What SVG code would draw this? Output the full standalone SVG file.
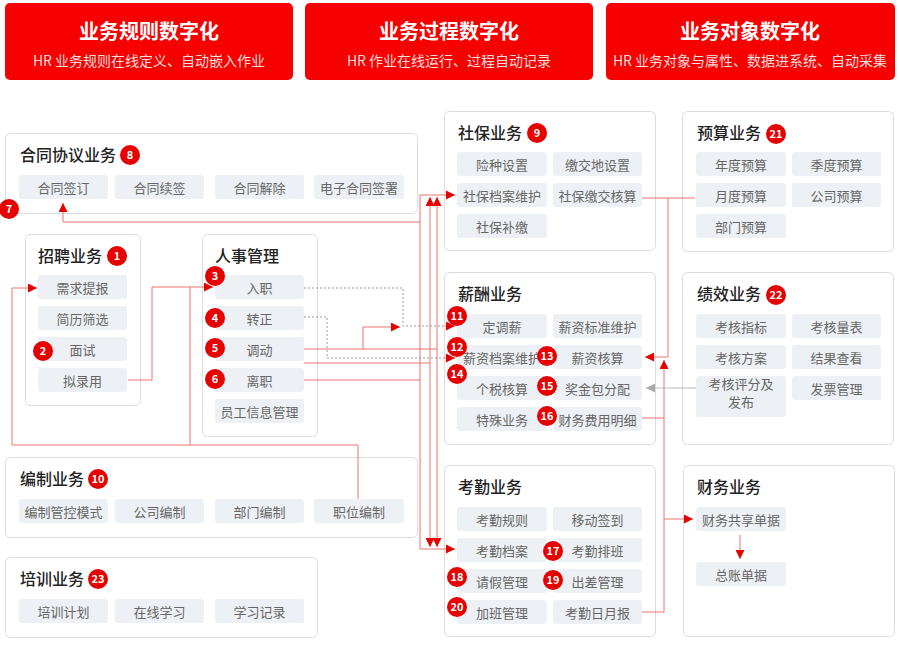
<svg xmlns="http://www.w3.org/2000/svg" width="900" height="645" viewBox="0 0 900 645">
<style>
text{font-family:"Noto Sans CJK SC","Noto Sans",sans-serif}
.ban{fill:#f70000}
.bt{fill:#fff;font-size:20px;font-weight:700;text-anchor:middle}
.bs{fill:#ffdede;font-size:14px;text-anchor:middle}
.pn{fill:#fff;stroke:#dcdcdc;stroke-width:1}
.pt{fill:#222;font-size:16px;font-weight:500}
.it{fill:#edf1f5}
.itx{fill:#666;font-size:13px;text-anchor:middle}
.bd{fill:#e60000}
.bn{fill:#fff;font-size:11px;font-weight:700;text-anchor:middle}
.ln{fill:none;stroke:#ee7070;stroke-width:1}
.dt{fill:none;stroke:#999;stroke-width:1;stroke-dasharray:2 2}
.gl{fill:none;stroke:#bbb;stroke-width:1}
</style>
<defs>
<marker id="ar" viewBox="0 0 10 10" refX="10" refY="5" markerWidth="10" markerHeight="9" markerUnits="userSpaceOnUse" orient="auto-start-reverse"><path d="M0,0 L10,5 L0,10 z" fill="#e60000"/></marker>
<marker id="ag" viewBox="0 0 10 10" refX="10" refY="5" markerWidth="10" markerHeight="9" markerUnits="userSpaceOnUse" orient="auto"><path d="M0,0 L10,5 L0,10 z" fill="#aaa"/></marker>
</defs>
<rect width="900" height="645" fill="#fff"/>

<g id="banner1"><rect class="ban" x="5" y="3" width="288" height="77" rx="5"/><text class="bt" x="149" y="39">业务规则数字化</text><text class="bs" x="149" y="66">HR 业务规则在线定义、自动嵌入作业</text></g>
<g id="banner2"><rect class="ban" x="305" y="3" width="288" height="77" rx="5"/><text class="bt" x="449" y="39">业务过程数字化</text><text class="bs" x="449" y="66">HR 作业在线运行、过程自动记录</text></g>
<g id="banner3"><rect class="ban" x="606" y="3" width="289" height="77" rx="5"/><text class="bt" x="750" y="39">业务对象数字化</text><text class="bs" x="750" y="66">HR 业务对象与属性、数据进系统、自动采集</text></g>

<g id="contract">
<rect class="pn" x="5.5" y="133.5" width="412" height="80" rx="5"/>
<text class="pt" x="20" y="161">合同协议业务</text>
<circle class="bd" cx="130" cy="155" r="10"/><text class="bn" x="130" y="159">8</text>
<rect class="it" x="19" y="175" width="89" height="24" rx="3"/><text class="itx" x="63.5" y="193">合同签订</text>
<rect class="it" x="115" y="175" width="89" height="24" rx="3"/><text class="itx" x="159.5" y="193">合同续签</text>
<rect class="it" x="215" y="175" width="89" height="24" rx="3"/><text class="itx" x="259.5" y="193">合同解除</text>
<rect class="it" x="314" y="175" width="90" height="24" rx="3"/><text class="itx" x="359" y="193">电子合同签署</text>
</g>

<g id="recruit">
<rect class="pn" x="25.5" y="234.5" width="115" height="171" rx="5"/>
<text class="pt" x="38" y="262">招聘业务</text>
<circle class="bd" cx="117" cy="256" r="10"/><text class="bn" x="117" y="260">1</text>
<rect class="it" x="38" y="275" width="89" height="24" rx="3"/><text class="itx" x="82.5" y="293">需求提报</text>
<rect class="it" x="38" y="306" width="89" height="24" rx="3"/><text class="itx" x="82.5" y="324">简历筛选</text>
<rect class="it" x="38" y="337" width="89" height="24" rx="3"/><text class="itx" x="82.5" y="355">面试</text>
<rect class="it" x="38" y="368" width="89" height="24" rx="3"/><text class="itx" x="82.5" y="386">拟录用</text>
<circle class="bd" cx="43" cy="351" r="10"/><text class="bn" x="43" y="355">2</text>
</g>

<g id="hr">
<rect class="pn" x="202.5" y="234.5" width="115" height="202" rx="5"/>
<text class="pt" x="215" y="262">人事管理</text>
<rect class="it" x="215" y="275" width="89" height="24" rx="3"/><text class="itx" x="259.5" y="293">入职</text>
<rect class="it" x="215" y="306" width="89" height="24" rx="3"/><text class="itx" x="259.5" y="324">转正</text>
<rect class="it" x="215" y="337" width="89" height="24" rx="3"/><text class="itx" x="259.5" y="355">调动</text>
<rect class="it" x="215" y="368" width="89" height="24" rx="3"/><text class="itx" x="259.5" y="386">离职</text>
<rect class="it" x="215" y="399" width="89" height="24" rx="3"/><text class="itx" x="259.5" y="417">员工信息管理</text>
<circle class="bd" cx="215" cy="276" r="10"/><text class="bn" x="215" y="280">3</text>
<circle class="bd" cx="215" cy="318" r="10"/><text class="bn" x="215" y="322">4</text>
<circle class="bd" cx="215" cy="348" r="10"/><text class="bn" x="215" y="352">5</text>
<circle class="bd" cx="215" cy="379" r="10"/><text class="bn" x="215" y="383">6</text>
</g>

<g id="staffing">
<rect class="pn" x="5.5" y="457.5" width="412" height="80" rx="5"/>
<text class="pt" x="20" y="485">编制业务</text>
<circle class="bd" cx="98" cy="479" r="10"/><text class="bn" x="98" y="483">10</text>
<rect class="it" x="19" y="499" width="89" height="24" rx="3"/><text class="itx" x="63.5" y="517">编制管控模式</text>
<rect class="it" x="115" y="499" width="89" height="24" rx="3"/><text class="itx" x="159.5" y="517">公司编制</text>
<rect class="it" x="215" y="499" width="89" height="24" rx="3"/><text class="itx" x="259.5" y="517">部门编制</text>
<rect class="it" x="314" y="499" width="90" height="24" rx="3"/><text class="itx" x="359" y="517">职位编制</text>
</g>

<g id="training">
<rect class="pn" x="5.5" y="557.5" width="312" height="80" rx="5"/>
<text class="pt" x="20" y="585">培训业务</text>
<circle class="bd" cx="98" cy="579" r="10"/><text class="bn" x="98" y="583">23</text>
<rect class="it" x="19" y="599" width="89" height="24" rx="3"/><text class="itx" x="63.5" y="617">培训计划</text>
<rect class="it" x="115" y="599" width="89" height="24" rx="3"/><text class="itx" x="159.5" y="617">在线学习</text>
<rect class="it" x="215" y="599" width="89" height="24" rx="3"/><text class="itx" x="259.5" y="617">学习记录</text>
</g>

<g id="social">
<rect class="pn" x="444.5" y="111.5" width="211" height="139" rx="5"/>
<text class="pt" x="458" y="139">社保业务</text>
<circle class="bd" cx="537" cy="133" r="10"/><text class="bn" x="537" y="137">9</text>
<rect class="it" x="457" y="152" width="90" height="24" rx="3"/><text class="itx" x="502" y="170">险种设置</text>
<rect class="it" x="553" y="152" width="89" height="24" rx="3"/><text class="itx" x="597.5" y="170">缴交地设置</text>
<rect class="it" x="457" y="183" width="90" height="24" rx="3"/><text class="itx" x="502" y="201">社保档案维护</text>
<rect class="it" x="553" y="183" width="89" height="24" rx="3"/><text class="itx" x="597.5" y="201">社保缴交核算</text>
<rect class="it" x="457" y="214" width="90" height="24" rx="3"/><text class="itx" x="502" y="232">社保补缴</text>
</g>

<g id="salary">
<rect class="pn" x="444.5" y="272.5" width="211" height="172" rx="5"/>
<text class="pt" x="458" y="300">薪酬业务</text>
<rect class="it" x="457" y="314" width="90" height="24" rx="3"/><text class="itx" x="502" y="332">定调薪</text>
<rect class="it" x="553" y="314" width="89" height="24" rx="3"/><text class="itx" x="597.5" y="332">薪资标准维护</text>
<rect class="it" x="457" y="345" width="90" height="24" rx="3"/><text class="itx" x="502" y="363">薪资档案维护</text>
<rect class="it" x="553" y="345" width="89" height="24" rx="3"/><text class="itx" x="597.5" y="363">薪资核算</text>
<rect class="it" x="457" y="376" width="90" height="24" rx="3"/><text class="itx" x="502" y="394">个税核算</text>
<rect class="it" x="553" y="376" width="89" height="24" rx="3"/><text class="itx" x="597.5" y="394">奖金包分配</text>
<rect class="it" x="457" y="407" width="90" height="24" rx="3"/><text class="itx" x="502" y="425">特殊业务</text>
<rect class="it" x="553" y="407" width="89" height="24" rx="3"/><text class="itx" x="597.5" y="425">财务费用明细</text>
<circle class="bd" cx="457" cy="316" r="10"/><text class="bn" x="457" y="320">11</text>
<circle class="bd" cx="457" cy="347" r="10"/><text class="bn" x="457" y="351">12</text>
<circle class="bd" cx="547" cy="356" r="10"/><text class="bn" x="547" y="360">13</text>
<circle class="bd" cx="457" cy="374" r="10"/><text class="bn" x="457" y="378">14</text>
<circle class="bd" cx="547" cy="386" r="10"/><text class="bn" x="547" y="390">15</text>
<circle class="bd" cx="547" cy="416" r="10"/><text class="bn" x="547" y="420">16</text>
</g>

<g id="attendance">
<rect class="pn" x="444.5" y="465.5" width="211" height="171" rx="5"/>
<text class="pt" x="458" y="493">考勤业务</text>
<rect class="it" x="457" y="507" width="90" height="24" rx="3"/><text class="itx" x="502" y="525">考勤规则</text>
<rect class="it" x="553" y="507" width="89" height="24" rx="3"/><text class="itx" x="597.5" y="525">移动签到</text>
<rect class="it" x="457" y="538" width="90" height="24" rx="3"/><text class="itx" x="502" y="556">考勤档案</text>
<rect class="it" x="553" y="538" width="89" height="24" rx="3"/><text class="itx" x="597.5" y="556">考勤排班</text>
<rect class="it" x="457" y="569" width="90" height="24" rx="3"/><text class="itx" x="502" y="587">请假管理</text>
<rect class="it" x="553" y="569" width="89" height="24" rx="3"/><text class="itx" x="597.5" y="587">出差管理</text>
<rect class="it" x="457" y="600" width="90" height="24" rx="3"/><text class="itx" x="502" y="618">加班管理</text>
<rect class="it" x="553" y="600" width="89" height="24" rx="3"/><text class="itx" x="597.5" y="618">考勤日月报</text>
<circle class="bd" cx="553" cy="551" r="10"/><text class="bn" x="553" y="555">17</text>
<circle class="bd" cx="457" cy="577" r="10"/><text class="bn" x="457" y="581">18</text>
<circle class="bd" cx="553" cy="580" r="10"/><text class="bn" x="553" y="584">19</text>
<circle class="bd" cx="457" cy="607" r="10"/><text class="bn" x="457" y="611">20</text>
</g>

<g id="budget">
<rect class="pn" x="682.5" y="111.5" width="211" height="140" rx="5"/>
<text class="pt" x="697" y="139">预算业务</text>
<circle class="bd" cx="776" cy="134" r="10"/><text class="bn" x="776" y="138">21</text>
<rect class="it" x="696" y="152" width="90" height="24" rx="3"/><text class="itx" x="741" y="170">年度预算</text>
<rect class="it" x="792" y="152" width="89" height="24" rx="3"/><text class="itx" x="836.5" y="170">季度预算</text>
<rect class="it" x="696" y="183" width="90" height="24" rx="3"/><text class="itx" x="741" y="201">月度预算</text>
<rect class="it" x="792" y="183" width="89" height="24" rx="3"/><text class="itx" x="836.5" y="201">公司预算</text>
<rect class="it" x="696" y="214" width="90" height="24" rx="3"/><text class="itx" x="741" y="232">部门预算</text>
</g>

<g id="performance">
<rect class="pn" x="682.5" y="272.5" width="211" height="172" rx="5"/>
<text class="pt" x="697" y="300">绩效业务</text>
<circle class="bd" cx="776" cy="295" r="10"/><text class="bn" x="776" y="299">22</text>
<rect class="it" x="696" y="314" width="90" height="24" rx="3"/><text class="itx" x="741" y="332">考核指标</text>
<rect class="it" x="792" y="314" width="89" height="24" rx="3"/><text class="itx" x="836.5" y="332">考核量表</text>
<rect class="it" x="696" y="345" width="90" height="24" rx="3"/><text class="itx" x="741" y="363">考核方案</text>
<rect class="it" x="792" y="345" width="89" height="24" rx="3"/><text class="itx" x="836.5" y="363">结果查看</text>
<rect class="it" x="696" y="376" width="90" height="41" rx="3"/><text class="itx" x="741" y="389">考核评分及</text><text class="itx" x="741" y="407">发布</text>
<rect class="it" x="792" y="376" width="89" height="24" rx="3"/><text class="itx" x="836.5" y="394">发票管理</text>
</g>

<g id="finance">
<rect class="pn" x="683.5" y="465.5" width="211" height="171" rx="5"/>
<text class="pt" x="697" y="493">财务业务</text>
<rect class="it" x="696" y="507" width="90" height="24" rx="3"/><text class="itx" x="741" y="525">财务共享单据</text>
<rect class="it" x="696" y="562" width="90" height="24" rx="3"/><text class="itx" x="741" y="580">总账单据</text>
</g>

<g id="connectors">
<path class="ln" d="M420,222 H63 V203" marker-end="url(#ar)"/>
<path class="ln" d="M455,195 H420 V549 H455" marker-start="url(#ar)" marker-end="url(#ar)"/>
<path class="ln" d="M430,197 V547" marker-start="url(#ar)" marker-end="url(#ar)"/>
<path class="ln" d="M437,197 V547" marker-start="url(#ar)" marker-end="url(#ar)"/>
<path class="ln" d="M304,349 H437"/>
<path class="ln" d="M363,349 V327 H400" marker-end="url(#ar)"/>
<path class="ln" d="M304,363 H430"/>
<path class="ln" d="M304,380 H420"/>
<path class="dt" d="M304,288 H403 V326 H445"/>
<path class="ln" d="M445,326 H455" marker-end="url(#ar)"/>
<path class="dt" d="M304,317 H327 V358 H445"/>
<path class="ln" d="M445,358 H455" marker-end="url(#ar)"/>
<path class="ln" d="M128,380 H152 V287 H213" marker-end="url(#ar)"/>
<path class="ln" d="M358,499 V445 H12 V288 H37" marker-end="url(#ar)"/>
<path class="ln" d="M190,445 V287"/>
<path class="ln" d="M642,198 H695"/>
<path class="ln" d="M668,198 V357 H645" marker-end="url(#ar)"/>
<path class="ln" d="M642,418 H664"/>
<path class="ln" d="M642,612 H664 V360" marker-end="url(#ar)"/>
<path class="ln" d="M664,519 H693" marker-end="url(#ar)"/>
<path class="gl" d="M696,388 H646" marker-end="url(#ag)"/>
<path class="ln" d="M740,535 V559" marker-end="url(#ar)"/>
</g>
<g id="badge7"><circle class="bd" cx="9" cy="209" r="10"/><text class="bn" x="9" y="213">7</text></g>
</svg>
